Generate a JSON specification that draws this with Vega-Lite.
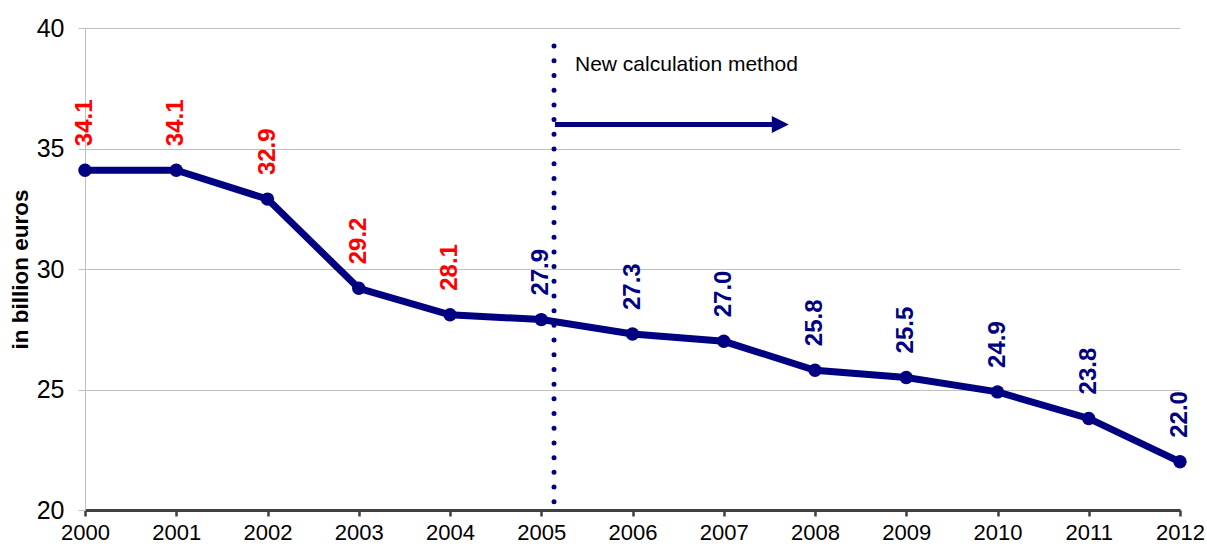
{
  "$schema": "https://vega.github.io/schema/vega-lite/v6.json",
  "width": 1095,
  "height": 482,
  "autosize": {"type": "none"},
  "padding": {"left": 85, "top": 28, "right": 27, "bottom": 36},
  "background": "white",
  "config": {"view": {"stroke": null}, "font": "Liberation Sans"},
  "datasets": {
    "series": [
      {"year": 2000, "value": 34.1, "method": "old"},
      {"year": 2001, "value": 34.1, "method": "old"},
      {"year": 2002, "value": 32.9, "method": "old"},
      {"year": 2003, "value": 29.2, "method": "old"},
      {"year": 2004, "value": 28.1, "method": "old"},
      {"year": 2005, "value": 27.9, "method": "new"},
      {"year": 2006, "value": 27.3, "method": "new"},
      {"year": 2007, "value": 27.0, "method": "new"},
      {"year": 2008, "value": 25.8, "method": "new"},
      {"year": 2009, "value": 25.5, "method": "new"},
      {"year": 2010, "value": 24.9, "method": "new"},
      {"year": 2011, "value": 23.8, "method": "new"},
      {"year": 2012, "value": 22.0, "method": "new"}
    ],
    "divider": [{"x": 2005.14, "top": 39.25, "bottom": 20}],
    "arrow": [{"x0": 2005.15, "x1": 2007.55, "y": 36}],
    "arrowhead": [{"x": 2007.62, "y": 36}],
    "note": [{"x": 2005.37, "y": 38.45, "text": "New calculation method"}]
  },
  "layer": [
    {
      "data": {"name": "series"},
      "mark": {
        "type": "line",
        "color": "#000080",
        "strokeWidth": 7,
        "point": {"filled": true, "size": 180, "color": "#000080", "opacity": 1}
      },
      "encoding": {
        "x": {
          "field": "year",
          "type": "quantitative",
          "title": null,
          "scale": {"domain": [2000, 2012], "nice": false, "zero": false},
          "axis": {
            "values": [2000, 2001, 2002, 2003, 2004, 2005, 2006, 2007, 2008, 2009, 2010, 2011, 2012],
            "format": "d",
            "grid": false,
            "labelFontSize": 22,
            "labelColor": "#000000",
            "labelFlush": false,
            "labelPadding": 6,
            "tickColor": "#404040",
            "tickWidth": 2.5,
            "tickSize": 6,
            "domainColor": "#404040",
            "domainWidth": 3
          }
        },
        "y": {
          "field": "value",
          "type": "quantitative",
          "title": "in billion euros",
          "scale": {"domain": [20, 40], "nice": false, "zero": false},
          "axis": {
            "values": [20, 25, 30, 35, 40],
            "titleFontSize": 22.5,
            "titleFontWeight": "bold",
            "titleColor": "#000000",
            "titlePadding": 4,
            "labelFontSize": 25,
            "labelColor": "#000000",
            "labelPadding": 14,
            "tickColor": "#c0c0c0",
            "tickSize": 7,
            "domainColor": "#c0c0c0",
            "gridColor": "#c0c0c0",
            "gridWidth": 1
          }
        }
      }
    },
    {
      "data": {"name": "series"},
      "mark": {
        "type": "text",
        "angle": 270,
        "align": "left",
        "baseline": "middle",
        "dx": 24,
        "fontSize": 24,
        "fontWeight": "bold"
      },
      "encoding": {
        "x": {"field": "year", "type": "quantitative", "title": null},
        "y": {"field": "value", "type": "quantitative", "title": "in billion euros"},
        "text": {"field": "value", "type": "quantitative", "format": ".1f"},
        "color": {
          "field": "method",
          "type": "nominal",
          "scale": {"domain": ["old", "new"], "range": ["#ff0000", "#000080"]},
          "legend": null
        }
      }
    },
    {
      "data": {"name": "divider"},
      "mark": {
        "type": "rule",
        "color": "#000080",
        "strokeWidth": 5,
        "strokeDash": [0, 14.7],
        "strokeCap": "round"
      },
      "encoding": {
        "x": {"field": "x", "type": "quantitative", "title": null},
        "y": {"field": "top", "type": "quantitative", "title": "in billion euros"},
        "y2": {"field": "bottom"}
      }
    },
    {
      "data": {"name": "arrow"},
      "mark": {"type": "rule", "color": "#000080", "strokeWidth": 5},
      "encoding": {
        "x": {"field": "x0", "type": "quantitative", "title": null},
        "x2": {"field": "x1"},
        "y": {"field": "y", "type": "quantitative", "title": "in billion euros"}
      }
    },
    {
      "data": {"name": "arrowhead"},
      "mark": {
        "type": "point",
        "shape": "M-1,-1L1,0L-1,1Z",
        "size": 289,
        "filled": true,
        "color": "#000080",
        "opacity": 1
      },
      "encoding": {
        "x": {"field": "x", "type": "quantitative", "title": null},
        "y": {"field": "y", "type": "quantitative", "title": "in billion euros"}
      }
    },
    {
      "data": {"name": "note"},
      "mark": {
        "type": "text",
        "align": "left",
        "baseline": "middle",
        "fontSize": 21,
        "color": "#000000"
      },
      "encoding": {
        "x": {"field": "x", "type": "quantitative", "title": null},
        "y": {"field": "y", "type": "quantitative", "title": "in billion euros"},
        "text": {"field": "text", "type": "nominal"}
      }
    }
  ]
}
